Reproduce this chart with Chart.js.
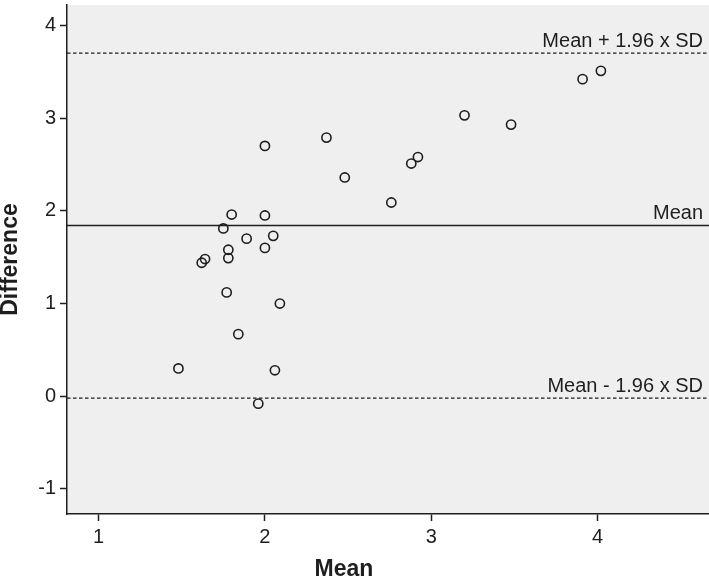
<!DOCTYPE html>
<html>
<head>
<meta charset="utf-8">
<script src="https://cdn.jsdelivr.net/npm/chart.js@4.4.1/dist/chart.umd.min.js"></script>
<style>
  html, body { margin: 0; padding: 0; background: #fff; }
  #wrap { width: 709px; height: 583px; position: relative; }
</style>
</head>
<body>
<div id="wrap"><canvas id="chart"></canvas></div>
<script>
// values
const meanValues = [4.02, 3.91, 3.20, 3.48, 2.37, 2.48, 2.92, 2.88, 2.76, 2.00, 1.80, 2.00, 1.75,
  1.89, 2.05, 1.78, 2.00, 1.78, 1.64, 1.62, 1.77, 2.09, 1.84, 1.48, 2.06, 1.96]
const diffValues = [3.51, 3.42, 3.03, 2.93, 2.79, 2.36, 2.58, 2.51, 2.09, 2.70, 1.96, 1.95, 1.81,
  1.70, 1.73, 1.58, 1.60, 1.49, 1.48, 1.44, 1.12, 1.00, 0.67, 0.30, 0.28, -0.08]

const xTicks = [1, 2, 3, 4]
const yTicks = [-1, 0, 1, 2, 3, 4]
const xRange = [0.81, 4.67]
const yRange = [-1.27, 4.22]

const refValues = [3.70, 1.842, -0.02]
const refLabels = ['Mean + 1.96 x SD', 'Mean', 'Mean - 1.96 x SD']
const refDashed = [true, false, true]

const xTitle = 'Mean'
const yTitle = 'Difference'

const ink = '#1e1e1e'
const tickFont = { family: 'Liberation Sans, Arial, sans-serif', size: 20 }
const titleFont = '700 23px "Liberation Sans Narrow", "Liberation Sans", Arial, sans-serif'

const points = meanValues.map((x, i) => ({ x: x, y: diffValues[i] }))

const refSets = refValues.map((v, i) => ({
  type: 'line',
  data: [{ x: xRange[0], y: v }, { x: xRange[1], y: v }],
  borderColor: ink,
  borderWidth: refDashed[i] ? 1.2 : 1.6,
  borderDash: refDashed[i] ? [3.5, 2.5] : [],
  pointRadius: 0,
  fill: false
}))

// grey plot area, line labels and axis titles
const decor = {
  id: 'decor',
  beforeDraw(chart) {
    const { ctx, chartArea: a } = chart
    ctx.save()
    ctx.fillStyle = '#efefef'
    ctx.fillRect(a.left, a.top, a.right - a.left, a.bottom - a.top)
    ctx.restore()
  },
  afterDraw(chart) {
    const { ctx, chartArea: a, scales } = chart
    ctx.save()
    ctx.fillStyle = ink
    ctx.font = '20px "Liberation Sans", Arial, sans-serif'
    ctx.textAlign = 'right'
    ctx.textBaseline = 'alphabetic'
    refValues.forEach((v, i) => {
      ctx.fillText(refLabels[i], a.right - 6, scales.y.getPixelForValue(v) - 6)
    })

    ctx.font = titleFont
    ctx.textAlign = 'center'
    ctx.textBaseline = 'middle'
    ctx.fillText(xTitle, a.left + 277, 570)

    ctx.translate(11, (a.top + a.bottom) / 2)
    ctx.rotate(-Math.PI / 2)
    ctx.fillText(yTitle, 0, 0)
    ctx.restore()
  }
}

new Chart(document.getElementById('chart'), {
  type: 'scatter',
  data: {
    datasets: [
      {
        data: points,
        pointStyle: 'circle',
        pointRadius: 4.6,
        pointBorderWidth: 1.6,
        pointBorderColor: ink,
        pointBackgroundColor: 'rgba(0,0,0,0)'
      },
      ...refSets
    ]
  },
  options: {
    responsive: true,
    maintainAspectRatio: false,
    animation: false,
    layout: { autoPadding: false, padding: { top: 5, right: 0, left: 0, bottom: 0 } },
    plugins: {
      legend: { display: false },
      tooltip: { enabled: false }
    },
    scales: {
      x: {
        type: 'linear',
        min: xRange[0],
        max: xRange[1],
        afterBuildTicks: (scale) => { scale.ticks = xTicks.map(v => ({ value: v })) },
        afterFit: (scale) => {
          scale.height = 69
          scale.paddingLeft = 0
          scale.paddingRight = 0
        },
        grid: { drawOnChartArea: false, drawTicks: true, tickLength: 7, tickColor: ink, tickWidth: 1.5 },
        border: { display: true, color: ink, width: 1.5 },
        ticks: { color: ink, font: tickFont, padding: 4, maxRotation: 0 }
      },
      y: {
        type: 'linear',
        min: yRange[0],
        max: yRange[1],
        afterBuildTicks: (scale) => { scale.ticks = yTicks.map(v => ({ value: v })) },
        afterFit: (scale) => {
          scale.width = 67
          scale.paddingTop = 0
          scale.paddingBottom = 0
        },
        grid: { drawOnChartArea: false, drawTicks: true, tickLength: 7, tickColor: ink, tickWidth: 1.5 },
        border: { display: true, color: ink, width: 1.5 },
        ticks: { color: ink, font: tickFont, padding: 4 }
      }
    }
  },
  plugins: [decor]
})
</script>
</body>
</html>
